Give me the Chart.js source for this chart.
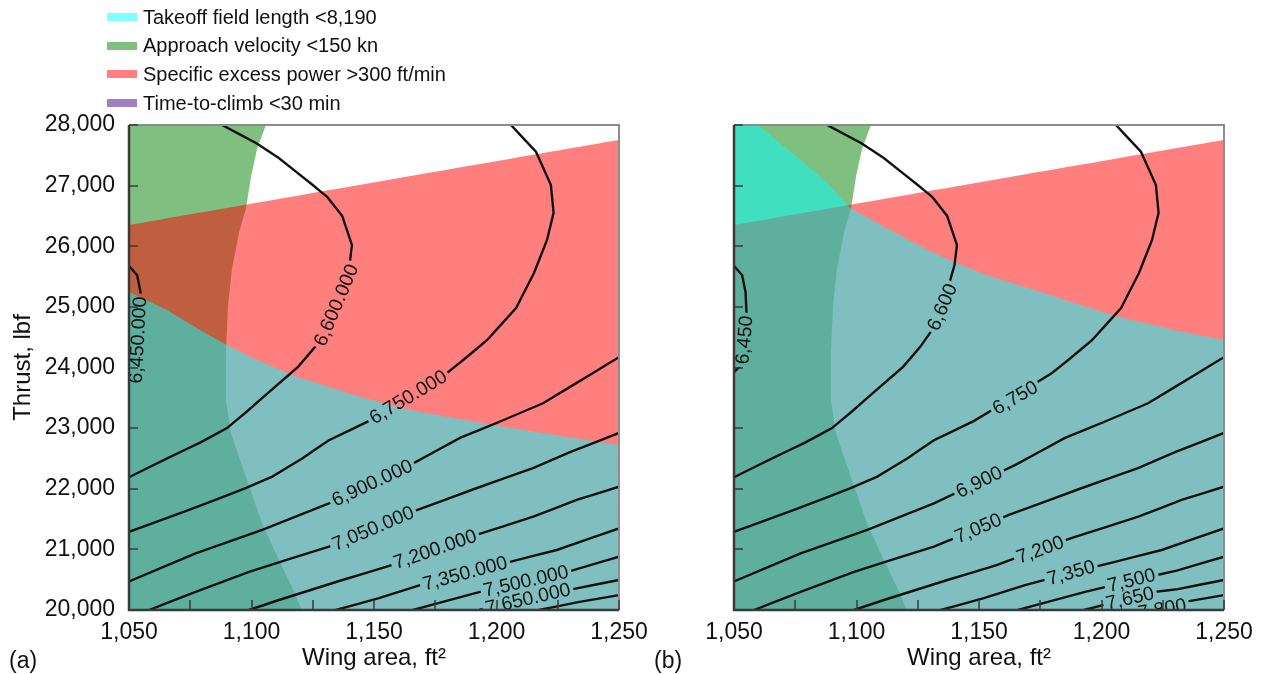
<!DOCTYPE html>
<html lang="en">
<head>
<meta charset="utf-8">
<title>Thrust / wing area constraint plot</title>
<script src="https://cdn.jsdelivr.net/npm/chart.js@4.4.1/dist/chart.umd.min.js"></script>
<style>
html,body{margin:0;padding:0;background:#fff;}
body{width:1267px;height:674px;position:relative;overflow:hidden;font-family:"Liberation Sans",Arial,sans-serif;color:#111;}
.pane{position:absolute;top:0;height:674px;}
#paneA{left:0;width:666px;}
#paneB{left:634px;width:633px;}
#legend{position:absolute;left:107px;top:3px;z-index:2;}
#legend div{height:28.6px;display:flex;align-items:center;font-size:20px;}
#legend span{display:inline-block;width:30px;height:8px;margin-right:6px;}
.tag{position:absolute;font-size:23px;line-height:1;}
</style>
</head>
<body>
<div id="legend"></div>
<div class="pane" id="paneA"><canvas id="chartA"></canvas></div>
<div class="pane" id="paneB"><canvas id="chartB"></canvas></div>
<div class="tag" style="left:9px;top:649px">(a)</div>
<div class="tag" style="left:654px;top:649px">(b)</div>
<script>
// Constraints (legend order) and their fills
const constraintNames = ["Takeoff field length <8,190", "Approach velocity <150 kn", "Specific excess power >300 ft/min", "Time-to-climb <30 min"];
const constraintColors = ["rgba(0,255,255,0.5)", "rgba(0,128,0,0.5)", "rgba(255,0,0,0.5)", "rgba(64,0,128,0.5)"];

// Axes
const wingRange = [1050, 1250];
const thrustRange = [20000, 28000];

// Constraint boundaries [wing area, thrust]
const approachEdge = [[1105.9,28000],[1102.2,27590],[1099.8,27140],[1097.8,26630],[1094.9,26220],[1092,25610],[1090.4,25000],[1089.6,24240],[1089.6,23460],[1091.6,22920],[1097.8,22190],[1104.3,21435],[1111.2,20825],[1116.5,20380],[1120.6,20000]];
const powerEdge = [[1050,26350],[1250,27753]];
const takeoffEdgeA = [[1050,25245],[1065.5,24950],[1079,24620],[1090,24370],[1102.2,24125],[1119.8,23825],[1144.3,23515],[1168.8,23265],[1198.6,23050],[1225.9,22870],[1250,22720]];
const takeoffEdgeB = [[1059.8,28000],[1077.2,27425],[1088.1,27040],[1097.6,26625],[1111.2,26320],[1126.2,25995],[1136.1,25805],[1152.9,25525],[1174.9,25250],[1206.2,24840],[1229.3,24620],[1250,24455]];

// Contour levels and lines
const levels = [6450, 6600, 6750, 6900, 7050, 7200, 7350, 7500, 7650, 7800];
const c6450 = [[1050,25674],[1053.3,25526],[1054.7,25245],[1055.1,24899],[1054.1,24454],[1052.7,24025],[1050,23926]];
const c6600 = [[1088,28000],[1102,27700],[1111,27460],[1125,27010],[1131,26810],[1137,26500],[1141,26020],[1140,25690],[1135,24980],[1130,24570],[1126,24340],[1119,24010],[1109,23660],[1098,23270],[1090,23000],[1079,22760],[1066,22510],[1050,22190]];
const c6750 = [[1050,21290],[1074.5,21650],[1097.6,22010],[1108.5,22200],[1120.7,22500],[1131.6,22800],[1148,23120],[1162.7,23480],[1179.8,23910],[1186.3,24120],[1196.1,24450],[1208,24980],[1215.3,25560],[1220.6,26100],[1223.3,26550],[1222.2,27010],[1216.1,27560],[1205.9,28000]];
const c6900 = [[1050,20470],[1077.2,20935],[1104.4,21320],[1131.6,21760],[1148.4,22080],[1164.7,22390],[1185.1,22840],[1202.7,23130],[1219,23410],[1239.4,23910],[1250,24170]];
const c7050 = [[1058.2,20000],[1077.2,20300],[1099,20630],[1131.6,21045],[1148,21320],[1162.2,21570],[1191.2,22000],[1214.9,22340],[1230,22605],[1250,22920]];
const c7200 = [[1099,20000],[1111.2,20165],[1137.1,20495],[1157.2,20740],[1172.4,20975],[1189.2,21205],[1215,21540],[1232.7,21815],[1250,22035]];
const c7350 = [[1134.4,20000],[1152,20195],[1168.8,20410],[1187.1,20610],[1205.5,20795],[1224.6,20990],[1250,21345]];
const c7500 = [[1165.9,20000],[1193.3,20300],[1212,20480],[1230.7,20650],[1250,20880]];
const c7650 = [[1192.9,20000],[1221.8,20300],[1231.2,20345],[1250,20495]];
const c7800 = [[1217.3,20000],[1233.3,20130],[1250,20245]];
const contours = [c6450, c6600, c6750, c6900, c7050, c7200, c7350, c7500, c7650, c7800];

// Inline contour labels: [level, wing area, thrust, angle deg]
const tagsA = [[6450,1053.5,24454,-87],[6600,1134.5,25031,-67],[6750,1163.9,23515,-31],[6900,1149.2,22100,-25],[7050,1149.6,21350,-23],[7200,1174.9,21005,-19],[7350,1187.1,20610,-15],[7500,1212,20480,-13],[7650,1212.8,20190,-13]];
const tagsB = [[6450,1054.1,24454,-85],[6600,1134.9,24998,-67],[6750,1164.7,23505,-30],[6900,1150,22115,-26],[7050,1149.6,21353,-23],[7200,1174.9,21000,-20],[7350,1187.5,20619,-16],[7500,1212.2,20495,-14],[7650,1211.6,20198,-13],[7800,1224.7,20020,-10]];

Chart.defaults.font.family = "'Liberation Sans', Arial, sans-serif";
Chart.defaults.color = "#111";

// Legend
const leg = document.getElementById("legend");
constraintNames.forEach((n,i)=>{
  const row = document.createElement("div");
  const sw = document.createElement("span"); sw.style.background = constraintColors[i];
  row.appendChild(sw); row.appendChild(document.createTextNode(n));
  leg.appendChild(row);
});

const pts = list => list.map(p=>({x:p[0], y:p[1]}));
const fmtA = v => v.toLocaleString("en-US",{minimumFractionDigits:3, maximumFractionDigits:3});
const fmtB = v => v.toLocaleString("en-US");
const TAG_FONT = "19.5px 'Liberation Sans', Arial, sans-serif";

function tagBox(chart, t, fmt){
  const ctx = chart.ctx;
  ctx.save(); ctx.font = TAG_FONT;
  const w = ctx.measureText(fmt(t[0])).width;
  ctx.restore();
  return {cx: chart.scales.x.getPixelForValue(t[1]), cy: chart.scales.y.getPixelForValue(t[2]),
          a: t[3]*Math.PI/180, hw: w/2 + 3, hh: 8, text: fmt(t[0])};
}

// cuts the contour under its label, then writes the label
function labelPlugin(tags, fmt){
  return {
    id: "contourTags",
    beforeDatasetDraw(chart, args){
      const ds = chart.data.datasets[args.index];
      const ctx = chart.ctx;
      ctx.save();
      if(ds.level === undefined) return;
      tags.filter(t=>t[0]===ds.level).forEach(t=>{
        const b = tagBox(chart, t, fmt);
        const c = Math.cos(b.a), s = Math.sin(b.a);
        const corner = (u,v)=>[b.cx + u*c - v*s, b.cy + u*s + v*c];
        ctx.beginPath();
        ctx.rect(0,0,chart.width,chart.height);
        const p = [corner(-b.hw,-b.hh), corner(b.hw,-b.hh), corner(b.hw,b.hh), corner(-b.hw,b.hh)];
        ctx.moveTo(p[0][0],p[0][1]); p.slice(1).forEach(q=>ctx.lineTo(q[0],q[1])); ctx.closePath();
        ctx.clip("evenodd");
      });
    },
    afterDatasetDraw(chart){ chart.ctx.restore(); },
    afterDatasetsDraw(chart){
      const ctx = chart.ctx, a = chart.chartArea;
      ctx.save();
      ctx.beginPath(); ctx.rect(a.left, a.top, a.right-a.left, a.bottom-a.top); ctx.clip();
      ctx.font = TAG_FONT; ctx.fillStyle = "#111"; ctx.textAlign = "center"; ctx.textBaseline = "middle";
      tags.forEach(t=>{
        const b = tagBox(chart, t, fmt);
        ctx.save(); ctx.translate(b.cx, b.cy); ctx.rotate(b.a); ctx.fillText(b.text, 0, 1); ctx.restore();
      });
      ctx.restore();
    }
  };
}

// axis lines, frame and inward tick marks
const framePlugin = {
  id: "frame",
  afterDraw(chart){
    const {ctx, chartArea:a, scales:{x, y}} = chart;
    ctx.save();
    ctx.strokeStyle = "#8c8c8c"; ctx.lineWidth = 2;
    ctx.beginPath(); ctx.moveTo(a.left, a.top); ctx.lineTo(a.right, a.top); ctx.lineTo(a.right, a.bottom); ctx.stroke();
    ctx.strokeStyle = "#3a3a3a"; ctx.lineWidth = 1.5;
    ctx.beginPath();
    x.ticks.forEach(t=>{ const px = Math.round(x.getPixelForValue(t.value)); ctx.moveTo(px, a.bottom); ctx.lineTo(px, a.bottom-10); });
    y.ticks.forEach(t=>{ const py = Math.round(y.getPixelForValue(t.value)); ctx.moveTo(a.left, py); ctx.lineTo(a.left+9, py); });
    ctx.stroke();
    ctx.lineWidth = 2.5;
    ctx.beginPath(); ctx.moveTo(a.left, a.top); ctx.lineTo(a.left, a.bottom); ctx.lineTo(a.right, a.bottom); ctx.stroke();
    ctx.restore();
  }
};

function makeChart(id, takeoffEdge, tags, fmt, isLeft){
  const approachRegion = [[wingRange[0],thrustRange[0]],[wingRange[0],thrustRange[1]], ...approachEdge];
  const powerRegion = [[wingRange[0],thrustRange[0]], ...powerEdge, [wingRange[1],thrustRange[0]]];
  const takeoffRegion = (takeoffEdge[0][1] === thrustRange[1])
    ? [[wingRange[0],thrustRange[0]],[wingRange[0],thrustRange[1]], ...takeoffEdge, [wingRange[1],thrustRange[0]]]
    : [[wingRange[0],thrustRange[0]], ...takeoffEdge, [wingRange[1],thrustRange[0]]];

  const areas = [
    {label: constraintNames[1], data: pts(approachRegion), backgroundColor: constraintColors[1], order: 40},
    {label: constraintNames[2], data: pts(powerRegion), backgroundColor: constraintColors[2], order: 30},
    {label: constraintNames[0], data: pts(takeoffRegion), backgroundColor: constraintColors[0], order: 20},
    {label: constraintNames[3], data: [], backgroundColor: constraintColors[3], order: 15}
  ].map(d=>Object.assign(d, {fill: "shape", borderWidth: 0, pointRadius: 0, tension: 0.001}));

  const lines = contours.map((c,i)=>({
    label: String(levels[i]), level: levels[i], data: pts(c),
    borderColor: "#111", borderWidth: 2.4, pointRadius: 0, fill: false, tension: 0.001, order: 0
  }));

  return new Chart(document.getElementById(id), {
    type: "line",
    data: {datasets: areas.concat(lines)},
    options: {
      responsive: true, maintainAspectRatio: false, animation: false,
      layout: {padding: {top: 125, right: isLeft ? 47 : 43, bottom: 0, left: 0}},
      plugins: {legend: {display: false}, tooltip: {enabled: false}},
      scales: {
        x: {
          type: "linear", min: wingRange[0], max: wingRange[1],
          grid: {display: false, drawTicks: false}, border: {display: false},
          ticks: {stepSize: 25, autoSkip: false, maxRotation: 0, padding: 9, font: {size: 23}, color: "#111",
                  callback: v => v % 50 === 0 ? v.toLocaleString("en-US") : ""},
          title: {display: true, text: "Wing area, ft²", font: {size: 24}, color: "#111", padding: {top: 0, bottom: 1}},
          afterFit(s){ s.height = 64; }
        },
        y: {
          type: "linear", min: thrustRange[0], max: thrustRange[1],
          grid: {display: false, drawTicks: false}, border: {display: false},
          ticks: {stepSize: 1000, padding: 14, font: {size: 23}, color: "#111",
                  callback: v => isLeft ? v.toLocaleString("en-US") : ""},
          title: {display: isLeft, text: "Thrust, lbf", font: {size: 24}, color: "#111", padding: {top: 9, bottom: 0}},
          afterFit(s){ s.width = isLeft ? 129 : 100; }
        }
      }
    },
    plugins: [labelPlugin(tags, fmt), framePlugin]
  });
}

makeChart("chartA", takeoffEdgeA, tagsA, fmtA, true);
makeChart("chartB", takeoffEdgeB, tagsB, fmtB, false);
</script>
</body>
</html>
